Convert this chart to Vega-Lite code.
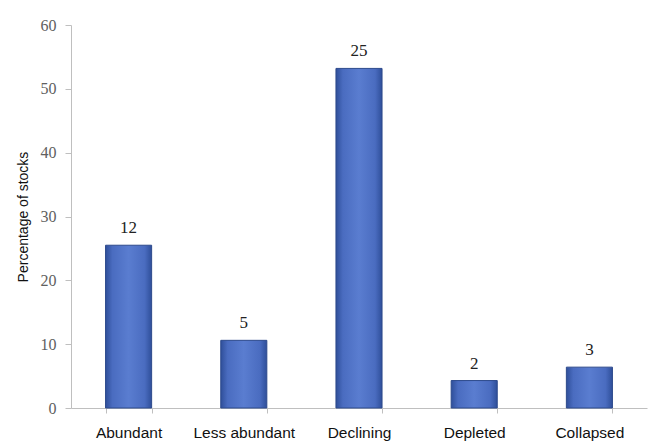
{
  "$schema": "https://vega.github.io/schema/vega-lite/v6.json",
  "autosize": "none",
  "width": 576,
  "height": 383,
  "padding": {"left": 71, "top": 25, "right": 2, "bottom": 36},
  "background": "white",
  "config": {"view": {"stroke": null}},
  "data": {
    "values": [
      {"status": "Abundant", "pct": 25.5, "count": 12},
      {"status": "Less abundant", "pct": 10.6, "count": 5},
      {"status": "Declining", "pct": 53.2, "count": 25},
      {"status": "Depleted", "pct": 4.3, "count": 2},
      {"status": "Collapsed", "pct": 6.4, "count": 3}
    ]
  },
  "encoding": {
    "x": {
      "field": "status",
      "type": "nominal",
      "sort": null,
      "scale": {"paddingInner": 0.6, "paddingOuter": 0.3},
      "axis": {
        "title": null,
        "labelAngle": 0,
        "labelFont": "Liberation Sans",
        "labelFontSize": 15.5,
        "labelColor": "#111111",
        "labelPadding": 12,
        "domainColor": "#bfbfbf",
        "tickColor": "#bfbfbf",
        "tickBand": "extent",
        "tickSize": 5
      }
    },
    "y": {
      "field": "pct",
      "type": "quantitative",
      "scale": {"domain": [0, 60], "nice": false},
      "axis": {
        "title": "Percentage of stocks",
        "titleFont": "Liberation Sans",
        "titleFontSize": 14,
        "titleFontWeight": "normal",
        "titleColor": "#111111",
        "titlePadding": 10,
        "values": [0, 10, 20, 30, 40, 50, 60],
        "grid": false,
        "labelFont": "Liberation Serif",
        "labelFontSize": 16,
        "labelColor": "#606060",
        "labelPadding": 9,
        "domainColor": "#bfbfbf",
        "tickColor": "#bfbfbf",
        "tickSize": 6
      }
    }
  },
  "layer": [
    {
      "mark": {
        "type": "bar",
        "stroke": "#2d4a8c",
        "strokeWidth": 1,
        "color": {
          "gradient": "linear",
          "x1": 0, "x2": 1, "y1": 0, "y2": 0,
          "stops": [
            {"offset": 0, "color": "#2f4f9a"},
            {"offset": 0.15, "color": "#4a6cc0"},
            {"offset": 0.5, "color": "#5a7dd0"},
            {"offset": 0.85, "color": "#4a6cc0"},
            {"offset": 1, "color": "#2f4f9a"}
          ]
        }
      }
    },
    {
      "mark": {
        "type": "text",
        "dy": -17,
        "font": "Liberation Serif",
        "fontSize": 17,
        "color": "#222222"
      },
      "encoding": {"text": {"field": "count", "type": "quantitative"}}
    }
  ]
}
